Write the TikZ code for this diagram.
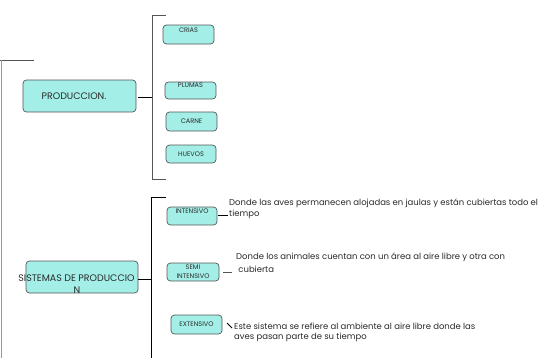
\documentclass[tikz,border=0pt]{standalone}
\usepackage{fontspec}
\setmainfont{Poppins}
\definecolor{boxc}{HTML}{A3EFE8}
\definecolor{txtc}{HTML}{2A2A2A}
\definecolor{linec}{HTML}{555555}
\begin{document}
\begin{tikzpicture}[x=1bp,y=-1bp,
  box/.style={draw=linec, fill=boxc, rounded corners=3.5bp, line width=0.7bp, inner sep=0pt},
  lbl/.style={text=txtc, inner sep=0pt, font=\fontsize{6.6}{7}\selectfont},
  big/.style={text=txtc, inner sep=0pt, font=\fontsize{9.5}{11}\selectfont},
  desc/.style={text=txtc, inner sep=0pt, anchor=west, font=\fontsize{8.5}{10}\selectfont},
  conn/.style={draw=black, line width=0.8bp},
  brk/.style={draw=linec, line width=0.9bp}]
\useasboundingbox (0,0) rectangle (558,358);
% left frame line
\coordinate (lt0) at (0,60);
\coordinate (lt1) at (34,60);
\coordinate (lv0) at (1,60);
\coordinate (lv1) at (1,358);
\draw[brk] (lt0) -- (lt1);
\draw[draw=gray!80, line width=0.9bp] (lv0) -- (lv1);

% PRODUCCION
\node[box, minimum width=113bp, minimum height=32bp] (prod) at (79.5,96) {};
\node[big] (prodt) at (74,96) {PRODUCCION.};
\coordinate (b1t) at (152,15);
\coordinate (b1tt) at (166,15);
\coordinate (b1b) at (152,179);
\coordinate (b1bb) at (166,179);
\coordinate (b1m) at (152,97);
\draw[brk] (b1tt) -- (b1t) -- (b1b) -- (b1bb);
\draw[conn] (prod.east) ++(2,1) -- (b1m);

\node[box, minimum width=51bp, minimum height=19bp] (crias) at (188.5,34.5) {};
\node[lbl] (criast) at (188.5,30.5) {CRIAS};
\node[box, minimum width=51bp, minimum height=17bp] (plumas) at (190.5,90.5) {};
\node[lbl] (plumast) at (190.5,85.5) {PLUMAS};
\node[box, minimum width=51bp, minimum height=19bp] (carne) at (191.5,121.5) {};
\node[lbl] (carnet) at (191.5,121.5) {CARNE};
\node[box, minimum width=50bp, minimum height=18bp] (huevos) at (191,154) {};
\node[lbl] (huevost) at (191,154) {HUEVOS};

% SISTEMAS
\node[box, minimum width=112bp, minimum height=32bp] (sis) at (82,277) {};
\node[big] (sist1) at (76.5,278) {SISTEMAS DE PRODUCCIO};
\node[big] (sist2) at (77,290) {N};
\coordinate (b2t) at (151,197);
\coordinate (b2tt) at (166,197);
\coordinate (b2b) at (151,358);
\coordinate (b2m) at (151,279);
\draw[conn] (b2tt) -- (b2t) -- (b2b);
\draw[conn] (sis.east) ++(0,2) -- (b2m);

\node[box, minimum width=50bp, minimum height=18bp] (int) at (192,216) {};
\node[lbl] (intt) at (192,211.5) {INTENSIVO};
\coordinate (c1a) at (218,215);
\coordinate (c1b) at (228,215);
\draw[conn] (c1a) -- (c1b);
\node[desc] (d1a) at (229,203) {Donde las aves permanecen alojadas en jaulas y están cubiertas todo el};
\node[desc] (d1b) at (229,214.5) {tiempo};

\node[box, minimum width=52bp, minimum height=18bp] (semi) at (193,272) {};
\node[lbl] (semit1) at (193,267) {SEMI};
\node[lbl] (semit2) at (193,276.5) {INTENSIVO};
\coordinate (c2a) at (223,272);
\coordinate (c2b) at (232,272);
\draw[conn, draw=linec] (c2a) -- (c2b);
\node[desc] (d2a) at (236,257) {Donde los animales cuentan con un área al aire libre y otra con};
\node[desc] (d2b) at (236,269) {~cubierta};

\node[box, minimum width=51bp, minimum height=19bp] (ext) at (196.5,324.5) {};
\node[lbl] (extt) at (196.5,324.5) {EXTENSIVO};
\coordinate (c3a) at (227,323);
\coordinate (c3b) at (232,328);
\draw[conn] (c3a) -- (c3b);
\node[desc] (d3a) at (234,326) {Este sistema se refiere al ambiente al aire libre donde las};
\node[desc] (d3b) at (234,337.5) {aves pasan parte de su tiempo};
\end{tikzpicture}
\end{document}
